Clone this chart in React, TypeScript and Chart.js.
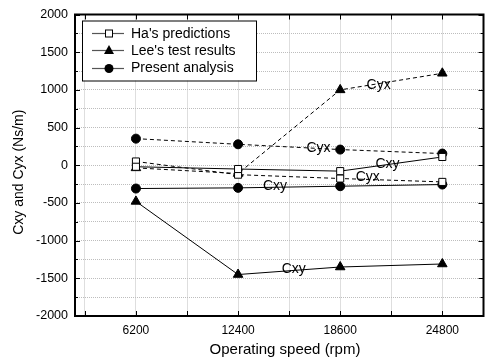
import { useEffect, useRef } from 'react';
import { Chart, registerables } from 'chart.js';

Chart.register(...registerables);

const FONT = "'Liberation Sans', Arial, Helvetica, sans-serif";

// Operating speeds (rpm)
const speeds = [6200, 12400, 18600, 24800];

// Cross-coupled damping coefficients (Ns/m)
const haCxy = [-20, -50, -78, 110];
const haCyx = [50, -125, -176, -221];
const leeCxy = [-480, -1450, -1350, -1310];
const leeCyx = [-35, -110, 1000, 1220];
const presentCxy = [-309, -300, -278, -256];
const presentCyx = [353, 278, 208, 155];

// Axis ticks
const xTickValues = [3100, 6200, 9300, 12400, 15500, 18600, 21700, 24800];
const xLabelValues = [6200, 12400, 18600, 24800];
const yTickValues = [
  -2000, -1750, -1500, -1250, -1000, -750, -500, -250, 0,
  250, 500, 750, 1000, 1250, 1500, 1750, 2000,
];
const yLabelValues = [-2000, -1500, -1000, -500, 0, 500, 1000, 1500, 2000];

const legendNames = ["Ha's predictions", "Lee's test results", 'Present analysis'];
const legendMarkers = ['square', 'triangle', 'circle'];

// Curve annotations, placed in data coordinates
const curveLabels = [
  { text: 'Cyx', x: 20936, y: 1060 },
  { text: 'Cyx', x: 17282, y: 225 },
  { text: 'Cxy', x: 21475, y: 20 },
  { text: 'Cyx', x: 20277, y: -160 },
  { text: 'Cxy', x: 14646, y: -280 },
  { text: 'Cxy', x: 15784, y: -1380 },
];

const toPoints = (vals: number[]) => vals.map((v, i) => ({ x: speeds[i], y: v }));

function drawMarker(ctx: CanvasRenderingContext2D, kind: string, x: number, y: number) {
  ctx.save();
  ctx.lineWidth = 1;
  ctx.strokeStyle = '#000';
  ctx.fillStyle = '#000';
  if (kind === 'square') {
    ctx.fillStyle = '#fff';
    ctx.fillRect(x - 3.5, y - 3.5, 7, 7);
    ctx.strokeRect(x - 3.5, y - 3.5, 7, 7);
  } else if (kind === 'triangle') {
    ctx.beginPath();
    ctx.moveTo(x, y - 5.5);
    ctx.lineTo(x + 5, y + 3.5);
    ctx.lineTo(x - 5, y + 3.5);
    ctx.closePath();
    ctx.fill();
  } else {
    ctx.beginPath();
    ctx.arc(x, y, 4.5, 0, Math.PI * 2);
    ctx.fill();
  }
  ctx.restore();
}

const decorPlugin = {
  id: 'decor',
  afterDatasetsDraw(chart: any) {
    const { ctx, chartArea: a, scales } = chart;
    const xs = scales.x;
    const ys = scales.y;
    ctx.save();

    // curve annotations
    ctx.fillStyle = '#000';
    ctx.font = `14px ${FONT}`;
    ctx.textAlign = 'center';
    ctx.textBaseline = 'middle';
    for (const l of curveLabels) {
      ctx.fillText(l.text, xs.getPixelForValue(l.x), ys.getPixelForValue(l.y));
    }

    // inward tick marks on all four sides
    ctx.strokeStyle = '#000';
    ctx.lineWidth = 1;
    ctx.beginPath();
    for (const v of xTickValues) {
      const px = Math.round(xs.getPixelForValue(v)) + 0.5;
      ctx.moveTo(px, a.bottom);
      ctx.lineTo(px, a.bottom - 5);
      ctx.moveTo(px, a.top);
      ctx.lineTo(px, a.top + 5);
    }
    for (const v of yTickValues) {
      const py = Math.round(ys.getPixelForValue(v)) + 0.5;
      const len = yLabelValues.includes(v) ? 5 : 3;
      ctx.moveTo(a.left, py);
      ctx.lineTo(a.left + len, py);
      ctx.moveTo(a.right, py);
      ctx.lineTo(a.right - len, py);
    }
    ctx.stroke();

    // plot frame
    ctx.lineWidth = 2;
    ctx.strokeRect(a.left, a.top, a.right - a.left, a.bottom - a.top);

    // legend
    const bx = a.left + 7;
    const by = a.top + 6;
    const bw = 174;
    const bh = 60;
    ctx.fillStyle = '#fff';
    ctx.fillRect(bx, by, bw, bh);
    ctx.lineWidth = 1;
    ctx.strokeStyle = '#000';
    ctx.strokeRect(bx + 0.5, by + 0.5, bw, bh);
    ctx.font = `14px ${FONT}`;
    ctx.textAlign = 'left';
    ctx.textBaseline = 'middle';
    legendNames.forEach((name, i) => {
      const ry = by + 12.5 + i * 17.3;
      ctx.strokeStyle = '#555';
      ctx.lineWidth = 1.2;
      ctx.beginPath();
      ctx.moveTo(bx + 10, Math.round(ry) + 0.5);
      ctx.lineTo(bx + 42, Math.round(ry) + 0.5);
      ctx.stroke();
      drawMarker(ctx, legendMarkers[i], bx + 27, Math.round(ry) + 0.5);
      ctx.fillStyle = '#000';
      ctx.fillText(name, bx + 49, ry + 1);
    });

    // axis titles
    ctx.fillStyle = '#000';
    ctx.textAlign = 'center';
    ctx.font = `15px ${FONT}`;
    ctx.fillText('Operating speed (rpm)', 285, 350);
    ctx.save();
    ctx.translate(19, (a.top + a.bottom) / 2 + 7);
    ctx.rotate(-Math.PI / 2);
    ctx.font = `14px ${FONT}`;
    ctx.fillText('Cxy and Cyx (Ns/m)', 0, 0);
    ctx.restore();

    ctx.restore();
  },
};

function series(data: number[], style: string, dashed: boolean) {
  const base: any = {
    data: toPoints(data),
    borderColor: '#000',
    borderWidth: 1,
    borderDash: dashed ? [4, 3] : [],
    pointBorderColor: '#000',
    pointBorderWidth: 1,
    showLine: true,
    fill: false,
  };
  if (style === 'square') {
    return { ...base, pointStyle: 'rect', pointRadius: 5, pointBackgroundColor: '#fff' };
  }
  if (style === 'triangle') {
    return { ...base, pointStyle: 'triangle', pointRadius: 5.5, pointBackgroundColor: '#000' };
  }
  return { ...base, pointStyle: 'circle', pointRadius: 4.5, pointBackgroundColor: '#000' };
}

export default function App() {
  const canvasRef = useRef<HTMLCanvasElement | null>(null);

  useEffect(() => {
    const canvas = canvasRef.current;
    if (!canvas) return;
    const chart = new Chart(canvas, {
      type: 'scatter',
      data: {
        datasets: [
          series(haCxy, 'square', false),
          series(haCyx, 'square', true),
          series(leeCxy, 'triangle', false),
          series(leeCyx, 'triangle', true),
          series(presentCxy, 'circle', false),
          series(presentCyx, 'circle', true),
        ],
      },
      options: {
        responsive: false,
        animation: false,
        layout: { padding: { top: 14, right: 1, left: 0, bottom: 0 } },
        plugins: {
          legend: { display: false },
          tooltip: { enabled: false },
        },
        scales: {
          x: {
            type: 'linear',
            min: 2500,
            max: 27300,
            afterBuildTicks: (scale: any) => {
              scale.ticks = xTickValues.map((v) => ({ value: v }));
            },
            afterFit: (scale: any) => {
              scale.height = 44;
            },
            ticks: {
              autoSkip: false,
              maxRotation: 0,
              padding: 7,
              color: '#000',
              font: { family: FONT, size: 12 },
              callback: (v: any) => (xLabelValues.includes(Number(v)) ? String(v) : ''),
            },
            grid: { color: '#bdbdbd', drawTicks: false, lineWidth: 1 },
            border: { display: false, dash: [1, 1] },
          },
          y: {
            type: 'linear',
            min: -2000,
            max: 2000,
            afterBuildTicks: (scale: any) => {
              scale.ticks = yTickValues.map((v) => ({ value: v }));
            },
            afterFit: (scale: any) => {
              scale.width = 75;
            },
            ticks: {
              autoSkip: false,
              padding: 7,
              color: '#000',
              font: { family: FONT, size: 12.5 },
              callback: (v: any) => (yLabelValues.includes(Number(v)) ? String(v) : ''),
            },
            grid: { color: '#bdbdbd', drawTicks: false, lineWidth: 1 },
            border: { display: false, dash: [1, 1] },
          },
        },
      },
      plugins: [decorPlugin],
    });
    return () => chart.destroy();
  }, []);

  return (
    <div style={{ position: 'fixed', left: 0, top: 0, width: 490, height: 360, background: '#fff' }}>
      <canvas ref={canvasRef} width={490} height={360} />
    </div>
  );
}
